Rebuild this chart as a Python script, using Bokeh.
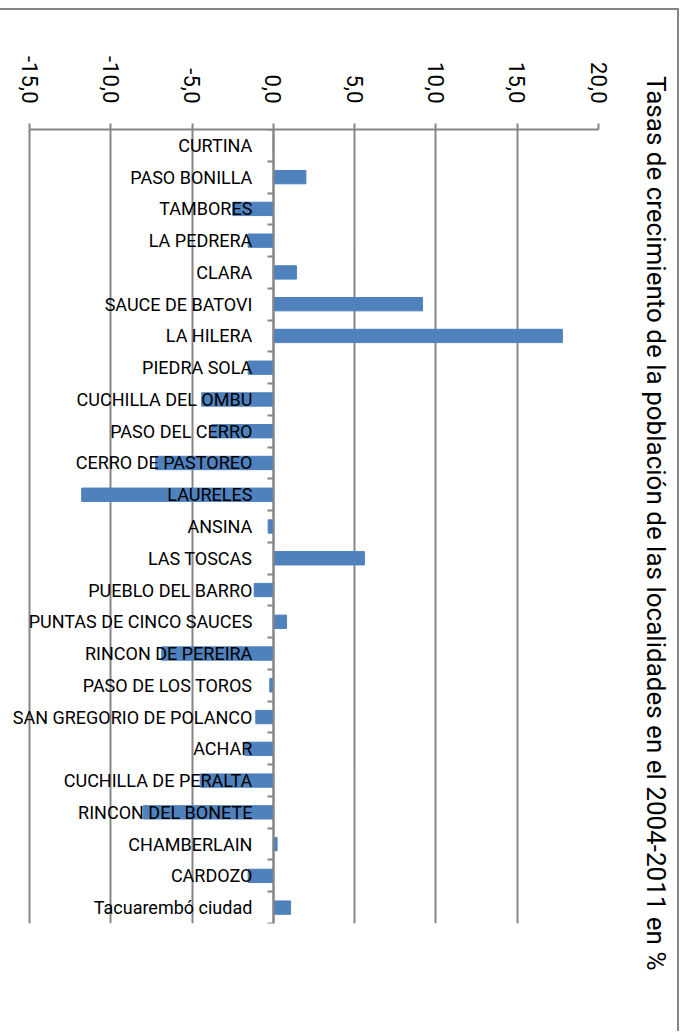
import math
from bokeh.plotting import figure
from bokeh.models import (Range1d, LinearAxis, FixedTicker, ColumnDataSource)
from bokeh.embed import file_html
from bokeh.resources import INLINE

categories = ["CURTINA", "PASO BONILLA", "TAMBORES", "LA PEDRERA", "CLARA",
              "SAUCE DE BATOVI", "LA HILERA", "PIEDRA SOLA", "CUCHILLA DEL OMBU",
              "PASO DEL CERRO", "CERRO DE PASTOREO", "LAURELES", "ANSINA",
              "LAS TOSCAS", "PUEBLO DEL BARRO", "PUNTAS DE CINCO SAUCES",
              "RINCON DE PEREIRA", "PASO DE LOS TOROS", "SAN GREGORIO DE POLANCO",
              "ACHAR", "CUCHILLA DE PERALTA", "RINCON DEL BONETE", "CHAMBERLAIN",
              "CARDOZO", "Tacuarembó ciudad"]
values = [0.0, 2.0, -2.5, -1.55, 1.42, 9.17, 17.78, -1.55, -4.41, -3.8,
          -7.24, -11.79, -0.32, 5.6, -1.18, 0.81, -6.87, -0.22, -1.08,
          -1.75, -4.5, -8.0, 0.23, -1.55, 1.06]
tick_values = [-15, -10, -5, 0, 5, 10, 15, 20]
tick_labels = ["-15,0", "-10,0", "-5,0", "0,0", "5,0", "10,0", "15,0", "20,0"]
title_text = "Tasas de crecimiento de la población de las localidades en el 2004-2011  en %"

GRAY = "#868686"
FONT = "Roboto"

n = len(categories)
centers = [2 * i + 1 for i in range(n)]      # category slot centres
bounds = [2 * i for i in range(n + 1)]       # category slot boundaries

src = ColumnDataSource(dict(y=centers, val=values))

# frame extends a little left of -15 so long category labels are not clipped
p = figure(y_range=Range1d(2 * n, 0),
           x_range=Range1d(-16.6, tick_values[-1]),
           frame_width=595, frame_height=794,
           min_border_left=3, min_border_top=119, min_border_right=79,
           min_border_bottom=108,
           x_axis_location="above", y_axis_location=None,
           output_backend="svg", toolbar_location=None)
p.styles = {"border-top": "2px solid " + GRAY, "border-right": "2px solid " + GRAY,
            "margin-top": "8px"}
p.outline_line_color = None

p.hbar(y="y", right="val", height=0.84, source=src, color="#4f81bd")

xa = p.xaxis[0]
xa.ticker = FixedTicker(ticks=tick_values)
xa.bounds = (tick_values[0], tick_values[-1])
xa.major_label_overrides = dict(zip(tick_values, tick_labels))
xa.major_label_orientation = -math.pi / 2
xa.major_label_text_font = FONT
xa.major_label_text_font_size = "22px"
xa.major_label_text_color = "black"
xa.major_tick_out = 6
xa.major_tick_in = 0
xa.major_tick_line_color = GRAY
xa.major_tick_line_width = 2
xa.axis_line_color = GRAY
xa.axis_line_width = 2
xa.minor_tick_line_color = None
xa.major_label_standoff = 20

p.xgrid.ticker = FixedTicker(ticks=tick_values)
p.xgrid.grid_line_color = GRAY
p.xgrid.grid_line_width = 2
p.ygrid.grid_line_color = None

yax = LinearAxis(fixed_location=0,
                 ticker=FixedTicker(ticks=centers, minor_ticks=bounds),
                 major_label_overrides=dict(zip(centers, categories)),
                 major_tick_line_color=None, major_tick_out=0, major_tick_in=0,
                 minor_tick_out=6, minor_tick_in=0, minor_tick_line_color=GRAY,
                 minor_tick_line_width=2,
                 axis_line_color=GRAY, axis_line_width=2,
                 major_label_standoff=15, major_label_text_font=FONT,
                 major_label_text_font_size="18px",
                 major_label_text_color="black")
p.add_layout(yax, "left")

# right-hand axis used only to carry the rotated chart title
tax = LinearAxis(ticker=FixedTicker(ticks=[]), axis_line_color=None,
                 major_tick_line_color=None, major_tick_out=0, major_tick_in=0,
                 minor_tick_line_color=None, minor_tick_out=0, minor_tick_in=0,
                 major_label_text_color=None,
                 axis_label=title_text, axis_label_standoff=42,
                 axis_label_text_font=FONT, axis_label_text_font_size="26px",
                 axis_label_text_font_style="normal",
                 axis_label_text_color="black")
p.add_layout(tax, "right")

open("out.html", "w").write(file_html(p, INLINE))
